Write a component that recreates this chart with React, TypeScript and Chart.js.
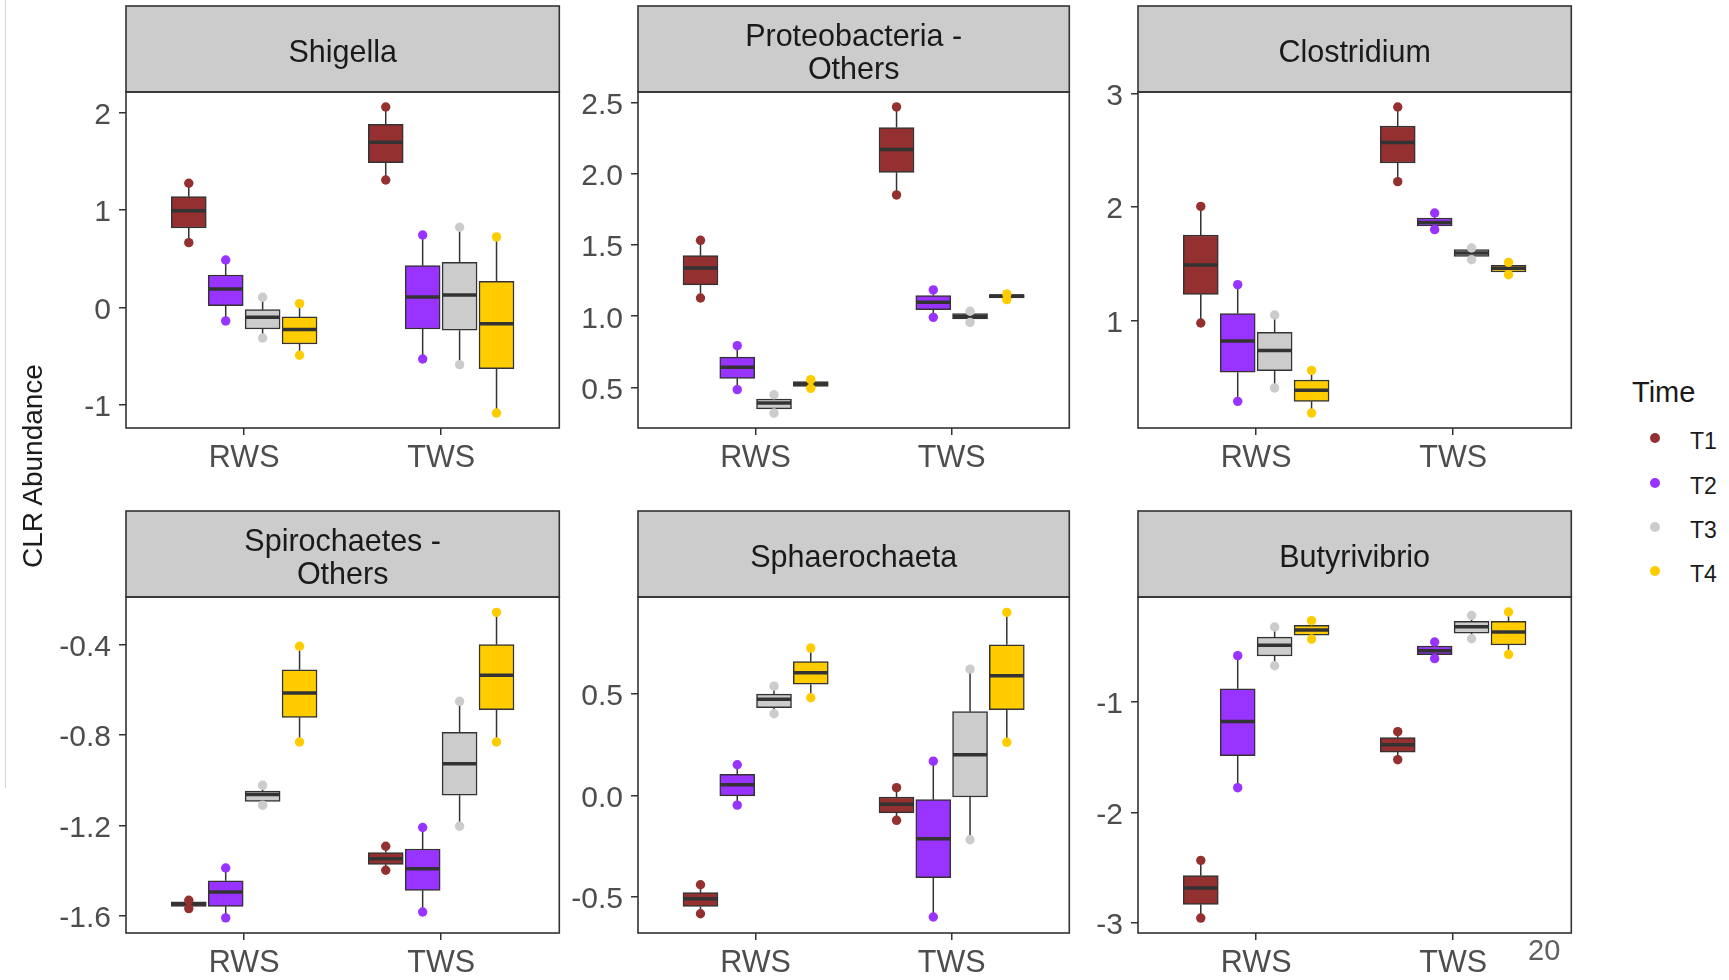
import React, { useEffect, useRef } from 'react';
import { Chart, registerables } from 'chart.js';

Chart.register(...registerables);

// ---------- DATA ----------
const categories = ['RWS', 'TWS'];
const times = ['T1', 'T2', 'T3', 'T4'];
const timeColors = ['#953030', '#9933FF', '#CCCCCC', '#FFCC00'];

// each row: [min, q1, median, q3, max] for T1..T4
const shigellaRWS = [[0.664, 0.815, 0.993, 1.137, 1.274], [-0.14, 0.017, 0.188, 0.332, 0.486], [-0.315, -0.223, -0.103, -0.024, 0.103], [-0.493, -0.377, -0.229, -0.099, 0.038]];
const shigellaTWS = [[1.308, 1.486, 1.695, 1.88, 2.058], [-0.531, -0.223, 0.106, 0.428, 0.743], [-0.589, -0.236, 0.127, 0.462, 0.822], [-1.086, -0.63, -0.168, 0.267, 0.723]];
const shigellaRange = [-1.24, 2.212];
const shigellaTicks = [-1, 0, 1, 2];
const shigellaTickLabels = ['-1', '0', '1', '2'];

const proteoRWS = [[1.128, 1.22, 1.339, 1.426, 1.534], [0.484, 0.563, 0.641, 0.713, 0.793], [0.319, 0.348, 0.39, 0.418, 0.448], [0.493, 0.507, 0.523, 0.54, 0.554]];
const proteoTWS = [[1.853, 2.012, 2.172, 2.327, 2.472], [0.992, 1.046, 1.098, 1.145, 1.185], [0.957, 0.981, 0.999, 1.018, 1.035], [1.117, 1.128, 1.142, 1.152, 1.157]];
const proteoRange = [0.214, 2.577];
const proteoTicks = [0.5, 1.0, 1.5, 2.0, 2.5];
const proteoTickLabels = ['0.5', '1.0', '1.5', '2.0', '2.5'];

const clostRWS = [[0.979, 1.232, 1.49, 1.755, 2.007], [0.289, 0.545, 0.821, 1.062, 1.317], [0.407, 0.559, 0.736, 0.897, 1.05], [0.186, 0.289, 0.386, 0.477, 0.562]];
const clostTWS = [[2.225, 2.389, 2.571, 2.715, 2.883], [1.802, 1.834, 1.866, 1.905, 1.949], [1.537, 1.567, 1.596, 1.626, 1.64], [1.405, 1.429, 1.461, 1.488, 1.514]];
const clostRange = [0.054, 3.015];
const clostTicks = [1, 2, 3];
const clostTickLabels = ['1', '2', '3'];

const spiroRWS = [[-1.569, -1.559, -1.548, -1.539, -1.532], [-1.61, -1.559, -1.495, -1.446, -1.389], [-1.111, -1.094, -1.064, -1.049, -1.023], [-0.831, -0.722, -0.614, -0.511, -0.407]];
const spiroTWS = [[-1.399, -1.373, -1.348, -1.321, -1.293], [-1.584, -1.488, -1.393, -1.305, -1.21], [-1.204, -1.067, -0.927, -0.788, -0.651], [-0.831, -0.688, -0.536, -0.4, -0.257]];
const spiroRange = [-1.677, -0.189];
const spiroTicks = [-1.6, -1.2, -0.8, -0.4];
const spiroTickLabels = ['-1.6', '-1.2', '-0.8', '-0.4'];

const sphaeroRWS = [[-0.584, -0.548, -0.51, -0.48, -0.441], [-0.048, -0.002, 0.053, 0.104, 0.151], [0.403, 0.433, 0.475, 0.5, 0.539], [0.482, 0.549, 0.605, 0.66, 0.727]];
const sphaeroTWS = [[-0.123, -0.086, -0.044, -0.008, 0.038], [-0.6, -0.406, -0.214, -0.021, 0.169], [-0.219, -0.008, 0.201, 0.413, 0.623], [0.262, 0.423, 0.59, 0.743, 0.903]];
const sphaeroRange = [-0.679, 0.979];
const sphaeroTicks = [-0.5, 0.0, 0.5];
const sphaeroTickLabels = ['-0.5', '0.0', '0.5'];

const butyRWS = [[-2.955, -2.831, -2.684, -2.572, -2.434], [-1.777, -1.488, -1.178, -0.883, -0.584], [-0.675, -0.587, -0.491, -0.416, -0.325], [-0.434, -0.398, -0.352, -0.31, -0.268]];
const butyTWS = [[-1.524, -1.455, -1.389, -1.325, -1.271], [-0.611, -0.575, -0.539, -0.497, -0.461], [-0.431, -0.38, -0.322, -0.274, -0.22], [-0.572, -0.488, -0.37, -0.274, -0.19]];
const butyRange = [-3.09, -0.054];
const butyTicks = [-3, -2, -1];
const butyTickLabels = ['-3', '-2', '-1'];

const xRange = [-0.6, 1.6];
const xTicks = [0, 1];

// ---------- LAYOUT ----------
const FONT = "'Liberation Sans', Arial, Helvetica, sans-serif";
const COLS = [[126, 560], [638, 1070], [1138, 1572]];
const ROWS = [[6, 92, 428], [511, 597, 933]]; // strip top, plot top, plot bottom
const AXIS_W = 100;
const AXIS_H = 50;
const DODGE = 0.1875;
const MED_HALF = 0.087;

const panels = [
  { title: ['Shigella'], rws: shigellaRWS, tws: shigellaTWS, range: shigellaRange, ticks: shigellaTicks, labels: shigellaTickLabels, col: 0, row: 0 },
  { title: ['Proteobacteria -', 'Others'], rws: proteoRWS, tws: proteoTWS, range: proteoRange, ticks: proteoTicks, labels: proteoTickLabels, col: 1, row: 0 },
  { title: ['Clostridium'], rws: clostRWS, tws: clostTWS, range: clostRange, ticks: clostTicks, labels: clostTickLabels, col: 2, row: 0 },
  { title: ['Spirochaetes -', 'Others'], rws: spiroRWS, tws: spiroTWS, range: spiroRange, ticks: spiroTicks, labels: spiroTickLabels, col: 0, row: 1 },
  { title: ['Sphaerochaeta'], rws: sphaeroRWS, tws: sphaeroTWS, range: sphaeroRange, ticks: sphaeroTicks, labels: sphaeroTickLabels, col: 1, row: 1 },
  { title: ['Butyrivibrio'], rws: butyRWS, tws: butyTWS, range: butyRange, ticks: butyTicks, labels: butyTickLabels, col: 2, row: 1 },
];

const stripPlugin = {
  id: 'strip',
  afterDraw(chart: any, _args: any, opts: any) {
    const { ctx, chartArea } = chart;
    const w = chartArea.right - chartArea.left;
    ctx.save();
    ctx.fillStyle = '#CCCCCC';
    ctx.fillRect(chartArea.left, 2, w, chartArea.top - 2);
    ctx.strokeStyle = '#333333';
    ctx.lineWidth = 1.6;
    ctx.strokeRect(chartArea.left, 2, w, chartArea.top - 2);
    ctx.strokeRect(chartArea.left, chartArea.top, w, chartArea.bottom - chartArea.top);
    ctx.fillStyle = '#1A1A1A';
    ctx.font = `30.5px ${FONT}`;
    ctx.textAlign = 'center';
    ctx.textBaseline = 'middle';
    const lines: string[] = opts.lines || [];
    const cx = (chartArea.left + chartArea.right) / 2;
    const cy = (2 + chartArea.top) / 2 + 5;
    const lh = 33;
    lines.forEach((l, i) => {
      ctx.fillText(l, cx, cy + (i - (lines.length - 1) / 2) * lh);
    });
    ctx.restore();
  },
};

function buildDatasets(rws: number[][], tws: number[][]) {
  const groups = [rws, tws];
  const ds: any[] = [];
  times.forEach((t, i) => {
    const off = (i - 1.5) * DODGE;
    const color = timeColors[i];
    const pos = (ci: number) => ci + off;
    ds.push({
      type: 'bar',
      label: t,
      data: groups.map((g, ci) => ({ x: pos(ci), y: [g[i][1], g[i][3]] })),
      backgroundColor: color,
      borderColor: '#333333',
      borderWidth: 1.5,
      borderSkipped: false,
      barThickness: 35,
      grouped: false,
      order: 3,
    });
    const whisk: any[] = [];
    groups.forEach((g, ci) => {
      whisk.push({ x: pos(ci), y: g[i][3] }, { x: pos(ci), y: g[i][4] }, { x: pos(ci), y: null });
      whisk.push({ x: pos(ci), y: g[i][1] }, { x: pos(ci), y: g[i][0] }, { x: pos(ci), y: null });
    });
    ds.push({
      type: 'line',
      label: t + ' whiskers',
      data: whisk,
      borderColor: '#333333',
      borderWidth: 1.5,
      pointRadius: 0,
      spanGaps: false,
      fill: false,
      order: 4,
    });
    const med: any[] = [];
    groups.forEach((g, ci) => {
      med.push({ x: pos(ci) - MED_HALF, y: g[i][2] }, { x: pos(ci) + MED_HALF, y: g[i][2] }, { x: pos(ci), y: null });
    });
    ds.push({
      type: 'line',
      label: t + ' median',
      data: med,
      borderColor: '#333333',
      borderWidth: 3.5,
      borderCapStyle: 'butt',
      pointRadius: 0,
      spanGaps: false,
      fill: false,
      order: 2,
    });
    const dots: any[] = [];
    groups.forEach((g, ci) => {
      dots.push({ x: pos(ci), y: g[i][0] }, { x: pos(ci), y: g[i][4] });
    });
    ds.push({
      type: 'scatter',
      label: t + ' points',
      data: dots,
      backgroundColor: color,
      pointBackgroundColor: color,
      pointBorderWidth: 0,
      pointRadius: 4.7,
      pointHoverRadius: 4.7,
      order: 1,
    });
  });
  return ds;
}

function Facet({ p }: { p: any }) {
  const ref = useRef<HTMLCanvasElement>(null);
  const [L, R] = COLS[p.col];
  const [S, T, B] = ROWS[p.row];
  const left = L - AXIS_W;
  const top = S - 2;
  const W = AXIS_W + (R - L) + 4;
  const H = B - top + AXIS_H;

  useEffect(() => {
    if (!ref.current) return;
    const chart = new Chart(ref.current, {
      type: 'scatter',
      data: { datasets: buildDatasets(p.rws, p.tws) },
      options: {
        responsive: false,
        animation: false,
        devicePixelRatio: 1,
        layout: { padding: { top: T - top, right: 4, left: 0, bottom: 0 } },
        plugins: {
          legend: { display: false },
          tooltip: { enabled: false },
          strip: { lines: p.title },
        } as any,
        scales: {
          x: {
            type: 'linear',
            min: xRange[0],
            max: xRange[1],
            offset: false,
            afterBuildTicks: (scale: any) => {
              scale.ticks = xTicks.map((v) => ({ value: v }));
            },
            afterFit: (scale: any) => {
              scale.height = AXIS_H;
            },
            ticks: {
              autoSkip: false,
              maxRotation: 0,
              padding: 5,
              color: '#4D4D4D',
              font: { size: 30.5, family: FONT },
              callback: (_v: any, idx: number) => categories[idx],
            },
            grid: { display: true, offset: false, drawOnChartArea: false, drawTicks: true, tickLength: 7, color: '#333333', lineWidth: 1.5 },
            border: { display: false },
          },
          y: {
            type: 'linear',
            min: p.range[0],
            max: p.range[1],
            afterBuildTicks: (scale: any) => {
              scale.ticks = p.ticks.map((v: number) => ({ value: v }));
            },
            afterFit: (scale: any) => {
              scale.width = AXIS_W;
            },
            ticks: {
              autoSkip: false,
              padding: 8,
              labelOffset: 3,
              color: '#4D4D4D',
              font: { size: 30, family: FONT },
              callback: (_v: any, idx: number) => p.labels[idx],
            },
            grid: { display: true, drawOnChartArea: false, drawTicks: true, tickLength: 7, color: '#333333', lineWidth: 1.5 },
            border: { display: false },
          },
        },
      } as any,
      plugins: [stripPlugin as any],
    });
    return () => chart.destroy();
  }, []);

  return (
    <canvas
      ref={ref}
      width={W}
      height={H}
      style={{ position: 'absolute', left, top, width: W, height: H }}
    />
  );
}

export default function App() {
  const legendBaseline = [448, 493, 537, 581];
  return (
    <div style={{ position: 'absolute', left: 0, top: 0, width: 1729, height: 980, overflow: 'hidden', background: '#FFFFFF', fontFamily: FONT }}>
      <div style={{ position: 'absolute', left: 5, top: 0, width: 1, height: 788, background: '#D6D6D6' }} />
      {panels.map((p, i) => (
        <Facet key={i} p={p} />
      ))}
      <div
        style={{
          position: 'absolute',
          left: 33,
          top: 466,
          transform: 'translate(-50%, -50%) rotate(-90deg)',
          whiteSpace: 'nowrap',
          fontSize: 28,
          lineHeight: '28px',
          color: '#1A1A1A',
        }}
      >
        CLR Abundance
      </div>
      <div style={{ position: 'absolute', left: 1632, top: 378, fontSize: 29, lineHeight: '29px', color: '#1A1A1A', whiteSpace: 'nowrap' }}>Time</div>
      {times.map((t, i) => (
        <React.Fragment key={t}>
          <div
            style={{
              position: 'absolute',
              left: 1655 - 5,
              top: legendBaseline[i] - 10 - 5,
              width: 10,
              height: 10,
              borderRadius: '50%',
              background: timeColors[i],
            }}
          />
          <div style={{ position: 'absolute', left: 1690, top: legendBaseline[i] - 18, fontSize: 23, lineHeight: '23px', color: '#1A1A1A', whiteSpace: 'nowrap' }}>{t}</div>
        </React.Fragment>
      ))}
      <div style={{ position: 'absolute', left: 1528, top: 936, fontSize: 29, lineHeight: '29px', color: '#5F5F5F', whiteSpace: 'nowrap' }}>20</div>
    </div>
  );
}
